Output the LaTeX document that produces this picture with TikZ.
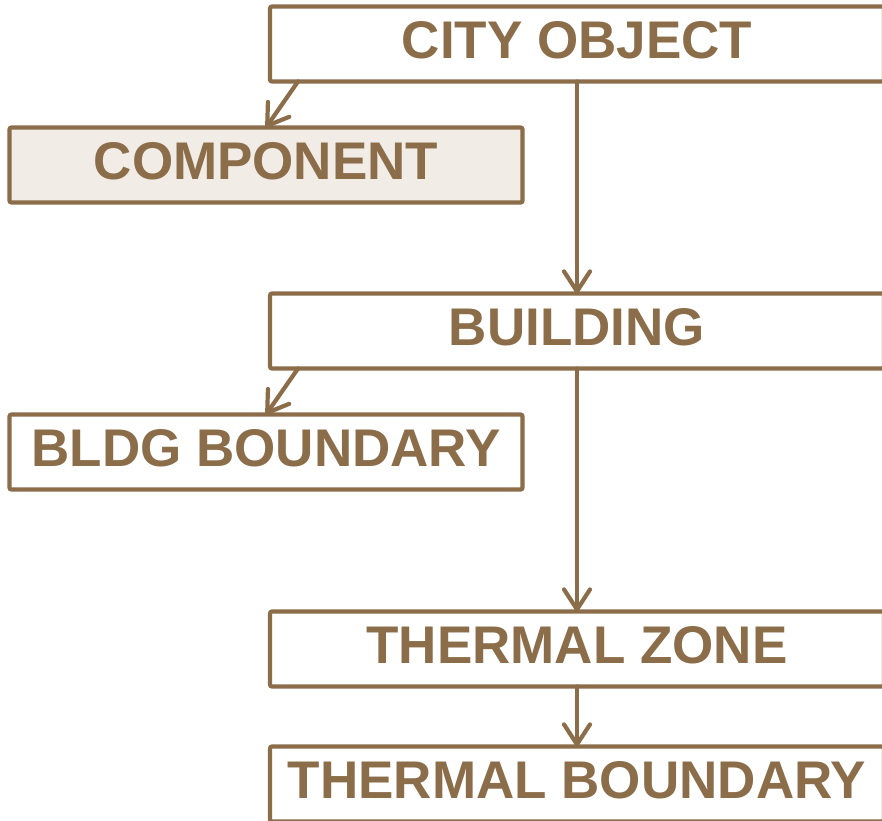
\documentclass[tikz,border=0pt]{standalone}
\usepackage{fontspec}
\setmainfont{Liberation Sans}
\usetikzlibrary{arrows.meta,calc}
\definecolor{brn}{HTML}{8B6D4A}
\definecolor{lightfill}{HTML}{F2ECE6}
\begin{document}
\begin{tikzpicture}[x=1pt,y=-1pt,
  box/.style={draw=brn, line width=4.2pt, rounded corners=2pt, fill=white,
    minimum height=75pt, outer sep=0pt, inner sep=0pt, text depth=8pt,
    text=brn, font=\fontsize{53}{60}\selectfont\bfseries},
  wide/.style={box, minimum width=614pt},
  narrow/.style={box, minimum width=513pt},
  conn/.style={draw=brn, line width=4.2pt, line cap=round,
    -{Straight Barb[length=20pt,width=26pt,round]}}
]
\useasboundingbox (0,0) rectangle (882,820);
\node[wide] (city) at (577,44) {CITY OBJECT};
\node[narrow, fill=lightfill] (comp) at (266,165) {COMPONENT};
\node[wide] (bldg) at (577,331) {BUILDING};
\node[narrow] (bb) at (266,452) {BLDG BOUNDARY};
\node[wide] (tz) at (577,649) {THERMAL ZONE};
\node[wide] (tb) at (577,784) {THERMAL BOUNDARY};
\draw[conn] ($(city.south west)+(28,0)$) -- (comp.north);
\draw[conn] ($(bldg.south west)+(28,0)$) -- (bb.north);
\draw[conn] (city.south) -- (bldg.north);
\draw[conn] (bldg.south) -- (tz.north);
\draw[conn] (tz.south) -- (tb.north);
\end{tikzpicture}
\end{document}
